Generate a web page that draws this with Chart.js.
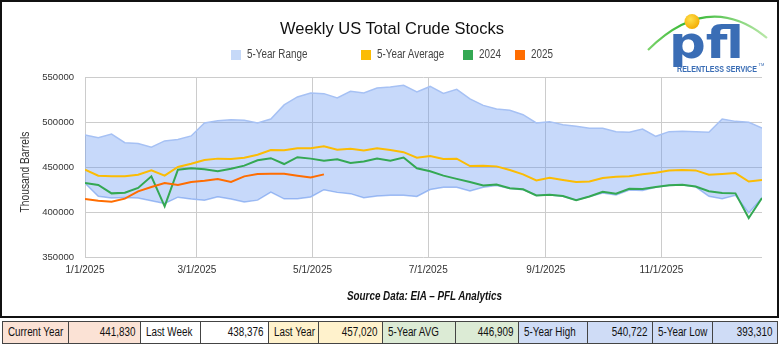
<!DOCTYPE html>
<html><head><meta charset="utf-8">
<script src="https://cdn.jsdelivr.net/npm/chart.js@4.4.1/dist/chart.umd.min.js"></script>
<style>
html,body{margin:0;padding:0;background:#fff;}
body{width:779px;height:346px;position:relative;overflow:hidden;font-family:"Liberation Sans",Arial,sans-serif;}
#c{position:absolute;left:0;top:0;}
.frame{position:absolute;left:0;top:0;width:779px;height:318px;box-sizing:border-box;border:2px solid #111;pointer-events:none;}
.abs{position:absolute;white-space:nowrap;}
.sq{display:inline-block;transform:scaleX(0.82);transform-origin:left center;}
.sqr{display:inline-block;transform:scaleX(0.82);transform-origin:right center;}
.sqc{display:inline-block;transform:scaleX(0.82);transform-origin:center center;}
.title{left:0;width:784px;top:20px;text-align:center;font-size:16.5px;line-height:16.5px;color:#111;}
.lg{top:48px;font-size:12px;line-height:12px;color:#444;}
.lbox{position:absolute;top:50px;width:10px;height:10px;}
.ytitle{left:25px;top:172px;font-size:12.5px;line-height:12px;color:#333;transform:translate(-50%,-50%) rotate(-90deg) scaleX(0.82);}
.source{left:0;width:849px;top:290px;text-align:center;font-size:12px;line-height:12px;font-weight:bold;font-style:italic;color:#111;}
.cell{position:absolute;top:321px;height:23px;box-sizing:border-box;border:1px solid #444;font-size:12px;line-height:21px;color:#111;white-space:nowrap;overflow:hidden;}
</style>
</head><body>
<canvas id="c" width="779" height="318"></canvas>
<div class="frame"></div>
<div class="abs title">Weekly US Total Crude Stocks</div>
<div id="legend"></div>
<div class="abs ytitle">Thousand Barrels</div>
<div class="abs source"><span class="sqc">Source Data: EIA – PFL Analytics</span></div>
<svg class="abs" style="left:0;top:0;" width="779" height="80" viewBox="0 0 779 80">
  <defs>
    <linearGradient id="arcg" x1="0" y1="0" x2="1" y2="0">
      <stop offset="0" stop-color="#7bd36b"/>
      <stop offset="0.35" stop-color="#2fb52f"/>
      <stop offset="1" stop-color="#b9e8a8"/>
    </linearGradient>
    <radialGradient id="ballg" cx="0.4" cy="0.35" r="0.7">
      <stop offset="0" stop-color="#ffe04a"/>
      <stop offset="1" stop-color="#f2a900"/>
    </radialGradient>
  </defs>
  <path d="M648,50 Q708.5,-10 767,38" fill="none" stroke="url(#arcg)" stroke-width="2.2"/>
  <circle cx="692" cy="21.5" r="7.5" fill="url(#ballg)"/>
  <text x="669" y="58" font-family="DejaVu Sans" font-weight="bold" font-size="45" fill="#3a6db5" textLength="75" lengthAdjust="spacingAndGlyphs">pfl</text>
  <text x="677" y="71.5" font-family="'Liberation Sans',Arial" font-weight="bold" font-size="9.5" fill="#3a6db5" textLength="80" lengthAdjust="spacingAndGlyphs">RELENTLESS SERVICE</text>
  <text x="758.5" y="66" font-family="Liberation Sans" font-size="4" fill="#3a6db5">TM</text>
</svg>
<div id="table"></div>
<script>
// ---- data ----
const weekDates = ['2025-01-01','2025-01-08','2025-01-15','2025-01-22','2025-01-29','2025-02-05','2025-02-12','2025-02-19','2025-02-26',
 '2025-03-05','2025-03-12','2025-03-19','2025-03-26','2025-04-02','2025-04-09','2025-04-16','2025-04-23','2025-04-30',
 '2025-05-07','2025-05-14','2025-05-21','2025-05-28','2025-06-04','2025-06-11','2025-06-18','2025-06-25',
 '2025-07-02','2025-07-09','2025-07-16','2025-07-23','2025-07-30','2025-08-06','2025-08-13','2025-08-20','2025-08-27',
 '2025-09-03','2025-09-10','2025-09-17','2025-09-24','2025-10-01','2025-10-08','2025-10-15','2025-10-22','2025-10-29',
 '2025-11-05','2025-11-12','2025-11-19','2025-11-26','2025-12-03','2025-12-10','2025-12-17','2025-12-24'];

const fiveYearHigh = [485500,482500,486500,477000,476000,472000,479000,480500,484500,499000,501500,502500,502000,
 499000,503300,519000,527800,532200,531500,526700,534100,532200,537800,538900,540722,533300,
 539500,531800,536300,525600,518500,514400,513000,508100,498900,500400,497000,495200,
 493000,493000,489300,488500,492200,484100,489300,489600,489300,488500,503300,500700,499600,493300];

const fiveYearLow = [432000,417500,415500,416000,415500,412500,409500,416500,414500,413000,417000,414500,411000,
 413200,422000,414600,414800,416700,424800,421800,420400,415800,417700,418700,418500,417300,
 425000,427500,427500,423300,427500,429500,426000,424800,418300,419000,417400,413000,
 417200,421000,419000,424400,424000,427500,429500,430000,428000,417500,414800,418500,399000,415600];

const fiveYearAvg = [447000,440400,439600,439600,441500,446300,440400,450000,453700,457800,459300,458900,460400,
 463700,468800,468500,470900,470900,473000,469200,470300,468300,470900,468800,466500,460400,
 462200,459000,459200,451100,451300,450700,446600,441800,435100,438000,435500,433300,
 433900,437800,439100,439600,442000,443500,446100,446600,446200,441500,442200,443200,433900,435700];

const stocks2024 = [432200,430000,420700,421500,426700,439600,406300,447000,448500,447400,445200,448100,451500,
 457400,459800,453300,460900,459300,457020,458700,454400,456000,459300,457000,460500,448500,
 445200,440400,436800,433300,429500,430500,426300,425200,418300,419200,417700,413000,
 417200,422400,420400,425900,425500,427800,429600,430200,428300,423000,421100,420700,393310,415600];

const stocks2025 = [414400,412600,411500,414800,422900,427800,432200,430000,433300,434800,436700,433300,439600,
 442200,442600,442600,440400,438376,441830];

const xTickDates = ['2025-01-01','2025-03-01','2025-05-01','2025-07-01','2025-09-01','2025-11-01'];
const xTickLabels = ['1/1/2025','3/1/2025','5/1/2025','7/1/2025','9/1/2025','11/1/2025'];
const yTickValues = [350000,400000,450000,500000,550000];

const legendLabels = ['5-Year Range','5-Year Average','2024','2025'];
const summaryLabels = ['Current Year','Last Week','Last Year','5-Year AVG','5-Year High','5-Year Low'];
const summaryValues = ['441,830','438,376','457,020','446,909','540,722','393,310'];

// ---- styles ----
const COLORS = {range:'rgba(100,150,240,0.36)', rangeEdge:'#a6c1f4', avg:'#fbbc04', y2024:'#34a853', y2025:'#ff6d01'};
const FONT = '"Liberation Sans",Arial,sans-serif';

const dayOf = s => (Date.UTC(+s.slice(0,4), +s.slice(5,7)-1, +s.slice(8,10)) - Date.UTC(2025,0,1)) / 86400000;
const xs = weekDates.map(dayOf);
const pts = arr => arr.map((v,i) => ({x: xs[i], y: v}));

const lineDs = (label, arr, color) => ({label, data: pts(arr), borderColor: color, borderWidth: 2, pointRadius: 0, tension: 0, fill: false});

new Chart(document.getElementById('c').getContext('2d'), {
  type: 'line',
  data: {datasets: [
    lineDs('2025', stocks2025, COLORS.y2025),
    lineDs('2024', stocks2024, COLORS.y2024),
    lineDs('5-Year Average', fiveYearAvg, COLORS.avg),
    {label:'5-Year Range', data: pts(fiveYearHigh), borderColor: COLORS.rangeEdge, borderWidth: 1.5, pointRadius: 0, tension: 0,
      backgroundColor: COLORS.range, fill: '+1'},
    {label:'5-Year Low', data: pts(fiveYearLow), borderColor: COLORS.rangeEdge, borderWidth: 1.5, pointRadius: 0, tension: 0, fill: false}
  ]},
  options: {
    responsive: false, animation: false, devicePixelRatio: 1,
    layout: {padding: {left: 0, right: 17, top: 77, bottom: 41}},
    plugins: {legend: {display: false}, title: {display: false}, tooltip: {enabled: false}},
    scales: {
      x: {type: 'linear', min: 0, max: dayOf(weekDates[weekDates.length-1]),
        afterBuildTicks: s => { s.ticks = xTickDates.map(d => ({value: dayOf(d)})); },
        ticks: {autoSkip: false, maxRotation: 0, padding: 7, color: '#333', font: {family: FONT, size: 10}, callback: (v, i) => xTickLabels[i]},
        grid: {color: '#cccccc', drawTicks: false, lineWidth: 1},
        border: {display: false},
        afterFit: s => { s.height = 20; }
      },
      y: {min: 350000, max: 550000,
        afterBuildTicks: s => { s.ticks = yTickValues.map(v => ({value: v})); },
        ticks: {padding: 11, color: '#333', font: {family: FONT, size: 9.5}, callback: v => String(v)},
        grid: {color: '#cccccc', drawTicks: false, lineWidth: 1},
        border: {display: false},
        afterFit: s => { s.width = 85; }
      }
    }
  }
});

// ---- legend (HTML) ----
const legendColors = ['#c6d9f8', COLORS.avg, COLORS.y2024, COLORS.y2025];
const legendBoxX = [231, 361, 463, 515];
const lg = document.getElementById('legend');
legendLabels.forEach((t, i) => {
  const b = document.createElement('div'); b.className = 'lbox';
  b.style.left = legendBoxX[i] + 'px'; b.style.background = legendColors[i];
  lg.appendChild(b);
  const s = document.createElement('div'); s.className = 'abs lg';
  s.style.left = (legendBoxX[i] + 16) + 'px';
  s.innerHTML = '<span class="sq"></span>'; s.firstChild.textContent = t;
  lg.appendChild(s);
});

// ---- summary table ----
const edges = [2,68,140,200,268,318,382,455,518,587,652,712,777];
const pairColors = ['#fbe2d5','#ffffff','#fff2cc','#dcebd5','#cfdcf6','#cfdcf6'];
const tb = document.getElementById('table');
summaryLabels.forEach((lab, i) => {
  [lab, summaryValues[i]].forEach((txt, j) => {
    const k = i*2 + j;
    const d = document.createElement('div'); d.className = 'cell';
    d.style.left = edges[k] + 'px';
    d.style.width = (edges[k+1] - edges[k] + 1) + 'px';
    d.style.background = pairColors[i];
    const sp = document.createElement('span');
    sp.textContent = txt;
    if (j === 0) { d.style.paddingLeft = '5px'; d.style.textAlign = 'left'; sp.className = 'sq'; }
    else { d.style.paddingRight = '5px'; d.style.textAlign = 'right'; sp.className = 'sqr'; }
    d.appendChild(sp);
    tb.appendChild(d);
  });
});
</script>
</body></html>
